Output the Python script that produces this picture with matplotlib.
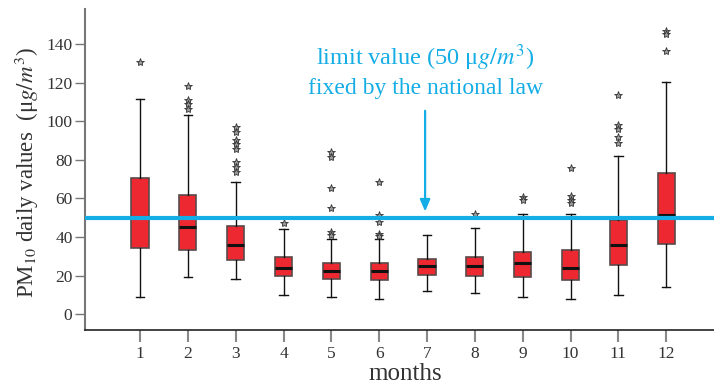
import matplotlib.pyplot as plt

plt.rcParams['font.family'] = ['Liberation Serif', 'DejaVu Serif']
plt.rcParams['mathtext.fontset'] = 'stix'

months = [1, 2, 3, 4, 5, 6, 7, 8, 9, 10, 11, 12]
whislo = [8.6, 19, 18, 9.7, 8.6, 7.6, 11.9, 10.7, 8.6, 7.6, 9.7, 13.8]
q1 = [34.2, 33.5, 27.8, 19.7, 18, 17.8, 20.2, 19.7, 19.2, 17.8, 25.7, 36.6]
med = [50.6, 45.2, 36.1, 24, 22.1, 22.1, 25, 25, 26.6, 24, 35.8, 51.2]
q3 = [70.8, 61.7, 45.8, 29.7, 26.3, 26.3, 28.8, 29.7, 32.1, 33.2, 48.7, 73.4]
whishi = [111.6, 103.5, 68.5, 43.9, 38.7, 38.7, 40.8, 44.9, 51.7, 51.7, 81.9, 120.7]
fliers = [
    [131],
    [118.5, 110.9, 109, 106.5],
    [97, 94.5, 90.2, 88.1, 85.9, 78.9, 76.3, 73.7],
    [47.5],
    [84.1, 81.5, 65.6, 54.8, 42.6, 41],
    [68.6, 51.3, 47.8, 41.8, 40.6],
    [],
    [51.8],
    [60.8, 59],
    [75.8, 61.1, 59.1, 57.4],
    [113.6, 97.9, 96.2, 91.9, 88.8],
    [146.8, 145.4, 136.4],
]
limit_value = 50
yticks = [0, 20, 40, 60, 80, 100, 120, 140]

blue = '#14ADE6'

stats = []
for i in range(len(months)):
    stats.append(dict(whislo=whislo[i], q1=q1[i], med=med[i], q3=q3[i],
                      whishi=whishi[i], fliers=fliers[i]))

fig = plt.figure(figsize=(7.14, 3.87), dpi=100)
ax = fig.add_axes([85 / 714, 1 - 330 / 387, 629 / 714, 321 / 387])

ax.bxp(stats, positions=months, widths=0.36, capwidths=0.18, patch_artist=True,
       boxprops=dict(facecolor='#EE2830', edgecolor='#5a4a4a', linewidth=1.2),
       medianprops=dict(color='#111111', linewidth=2.2),
       whiskerprops=dict(color='#111111', linewidth=1),
       capprops=dict(color='#111111', linewidth=1),
       flierprops=dict(marker='*', markersize=6, markerfacecolor='#999999',
                       markeredgecolor='#333333', markeredgewidth=0.6,
                       linestyle='none'))

# limit line drawn over the boxes
ax.axhline(limit_value, color=blue, linewidth=3, zorder=5)

ax.annotate('', xy=(6.96, 51.8), xytext=(6.96, 107),
            arrowprops=dict(arrowstyle='-|>,head_width=0.3,head_length=0.7',
                            color=blue, lw=1.6), zorder=6)
ax.text(6.96, 129, 'limit value (50 μ$g/m^3$)', color=blue, fontsize=17.5,
        ha='center', va='baseline')
ax.text(6.96, 114.5, 'fixed by the national law', color=blue, fontsize=17,
        ha='center', va='baseline')

ax.set_xlim(-0.15, 13.0)
ax.set_ylim(-8.3, 158.4)
ax.set_xticks(months)
ax.set_xticklabels([str(m) for m in months])
ax.set_yticks(yticks)

for side in ['top', 'right']:
    ax.spines[side].set_visible(False)
ax.spines['left'].set_color('#777777')
ax.spines['left'].set_linewidth(1.5)
ax.spines['bottom'].set_color('#222222')
ax.spines['bottom'].set_linewidth(1.2)

ax.tick_params(axis='y', direction='out', length=7, width=1, color='#777777',
               labelsize=12.5, labelcolor='#333333', pad=2)
ax.tick_params(axis='x', direction='out', length=8.5, width=1.5, color='#888888',
               labelsize=12.5, labelcolor='#333333', pad=3)

fig.text(27 / 714, 1 - 173 / 387, 'PM$_{10}$ daily values  (μ$g/m^3$)',
         rotation=90, ha='center', va='center', fontsize=16.5, color='#333333')
fig.text(405 / 714, 1 - 380 / 387, 'months', ha='center', va='baseline',
         fontsize=18, color='#333333')

fig.savefig('out.png', dpi=100)
